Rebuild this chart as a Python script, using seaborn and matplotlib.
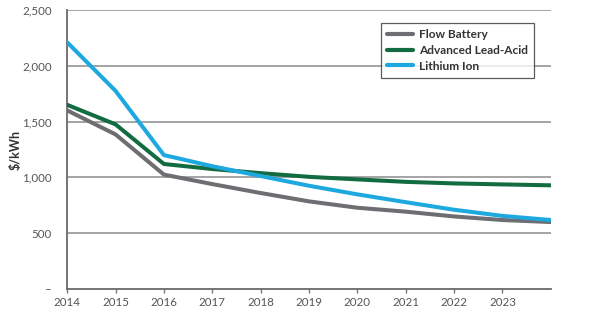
import matplotlib
matplotlib.use("Agg")
import matplotlib.pyplot as plt
import seaborn as sns
import pandas as pd

years = list(range(2014, 2025))
flow_battery = [1600, 1385, 1025, 940, 860, 785, 728, 693, 650, 618, 600]
lead_acid = [1650, 1475, 1120, 1075, 1038, 1005, 982, 960, 946, 937, 929]
lithium_ion = [2210, 1775, 1200, 1100, 1012, 925, 848, 778, 710, 655, 618]

series_names = ["Flow Battery", "Advanced Lead-Acid", "Lithium Ion"]
series_colors = ["#6d6e71", "#136b41", "#1da8df"]

y_ticks = [0, 500, 1000, 1500, 2000, 2500]
y_tick_labels = ["\u2013", "500", "1,000", "1,500", "2,000", "2,500"]
x_ticks = list(range(2014, 2024))

df = pd.concat([
    pd.DataFrame({"year": years, "cost": vals, "tech": name})
    for name, vals in zip(series_names, [flow_battery, lead_acid, lithium_ion])
])

sns.set_theme(style="white")
plt.rcParams["font.family"] = ["Lato", "DejaVu Sans"]

fig = plt.figure(figsize=(6.0, 3.32), dpi=100)
ax = fig.add_axes([0.112, 0.1295, 0.806, 0.8405])

for y in y_ticks[1:]:
    ax.axhline(y, color="#9d9d9d", lw=1.3, zorder=1)

sns.lineplot(data=df, x="year", y="cost", hue="tech", hue_order=series_names,
             palette=series_colors, linewidth=2.9, ax=ax, legend=False, zorder=3)

ax.set_xlim(2014, 2024)
ax.set_ylim(0, 2500)
ax.set_xticks(x_ticks)
ax.set_xticklabels([str(x) for x in x_ticks], fontsize=8.3, color="#555555")
ax.set_yticks(y_ticks)
ax.set_yticklabels(y_tick_labels, fontsize=8.3, color="#555555")
ax.tick_params(axis="x", bottom=True, length=3, width=1, color="#777777", pad=3)
ax.tick_params(axis="y", left=False, pad=5)
ax.set_xlabel("")
ax.set_ylabel("$/kWh", fontsize=9, fontweight="bold", color="#333333")
ax.yaxis.set_label_coords(-0.095, 0.5)

for side in ["top", "right"]:
    ax.spines[side].set_visible(False)
for side in ["left", "bottom"]:
    ax.spines[side].set_color("#6a6a6a")
    ax.spines[side].set_linewidth(1.3)

handles = [plt.Line2D([], [], color=c, lw=3) for c in series_colors]
leg = ax.legend(handles, series_names, loc="upper right", bbox_to_anchor=(0.965, 0.953),
                borderaxespad=0, frameon=True, fancybox=False, handlelength=2.2,
                handletextpad=0.5, labelspacing=0.4, borderpad=0.5,
                prop={"weight": "bold", "size": 8.6})
leg.get_frame().set_edgecolor("#333333")
leg.get_frame().set_linewidth(0.9)
for t in leg.get_texts():
    t.set_color("#333333")
leg.set_zorder(5)

fig.savefig("out.png", dpi=100)
